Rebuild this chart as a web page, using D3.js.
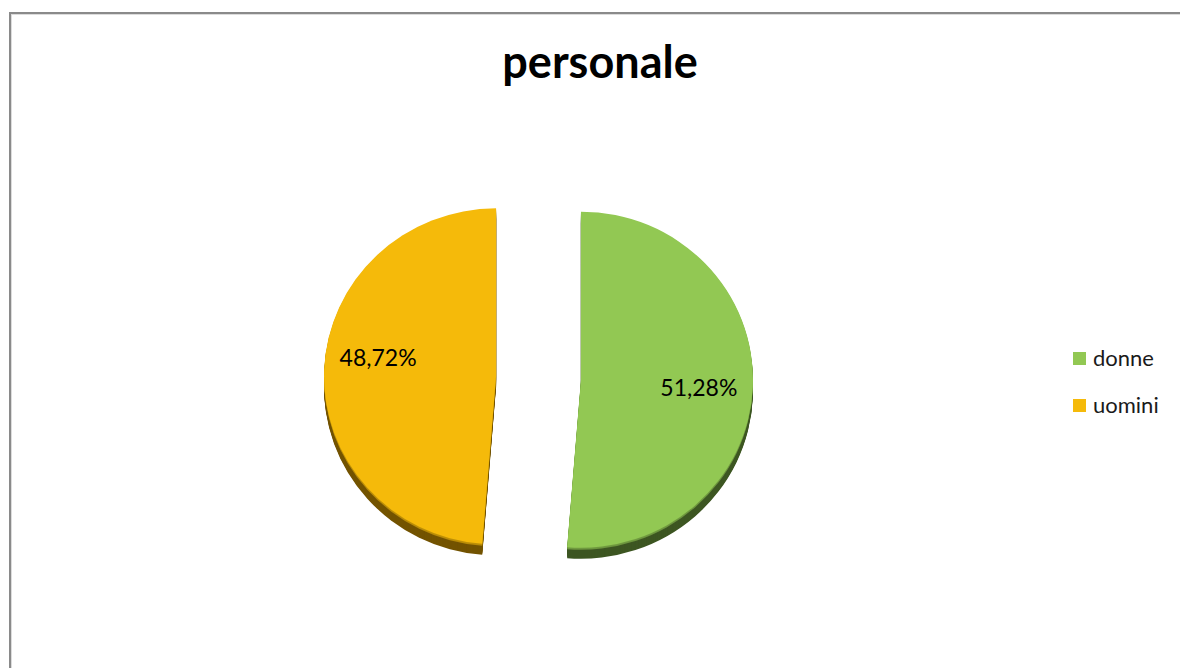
<!DOCTYPE html>
<html>
<head>
<meta charset="utf-8">
<script src="https://cdn.jsdelivr.net/npm/d3@7"></script>
<style>
  body { margin: 0; background: #fff; }
  svg { display: block; font-family: Lato, "Open Sans", sans-serif; }
</style>
</head>
<body>
<div id="chart"></div>
<script>
// Data
var categories = ["donne", "uomini"];
var values = [51.28, 48.72];
var labels = ["51,28%", "48,72%"];

var topColors = ["#92C853", "#F5BA0A"];
var sideColors = ["#3D5622", "#735300"];

var svgWidth = 1180;
var svgHeight = 668;

var svg = d3.select("#chart")
  .append("svg")
  .attr("width", svgWidth)
  .attr("height", svgHeight);

// chart area frame
svg.append("rect")
  .attr("x", 10).attr("y", 13)
  .attr("width", 1200).attr("height", 700)
  .attr("fill", "#fff")
  .attr("stroke", "#8a8a8a")
  .attr("stroke-width", 2);
svg.append("rect")
  .attr("x", 11.5).attr("y", 14.5)
  .attr("width", 1200).attr("height", 700)
  .attr("fill", "none")
  .attr("stroke", "#dcdcdc")
  .attr("stroke-width", 1);

// title
svg.append("text")
  .attr("x", 600)
  .attr("y", 78)
  .attr("text-anchor", "middle")
  .style("font-size", "45px")
  .style("font-weight", "bold")
  .text("personale");

// pie
var rx = 172, ry = 168;
var depth = 11;
var explode = 42.5;
var center = { x: 538.5, y: 378 };

var pie = d3.pie().sort(null).value(d => d);
var arcs = pie(values);

var arc = d3.arc().innerRadius(0).outerRadius(rx);
var labelArc = d3.arc().innerRadius(118).outerRadius(118);

var pieGroup = svg.append("g")
  .attr("transform", `translate(${center.x}, ${center.y}) scale(1, ${ry / rx})`);

var slices = pieGroup.selectAll("g.slice")
  .data(arcs)
  .enter()
  .append("g")
  .attr("class", "slice")
  .attr("transform", function (d) {
    var a = (d.startAngle + d.endAngle) / 2;
    return `translate(${Math.sin(a) * explode}, ${-Math.cos(a) * explode})`;
  });

// side walls: stacked copies shifted down
slices.each(function (d, i) {
  var g = d3.select(this);
  for (var k = depth; k >= 1; k--) {
    var c = d3.interpolateRgb(sideColors[i], d3.color(topColors[i]).darker(0.6))(1 - k / depth);
    g.append("path")
      .attr("d", arc(d))
      .attr("transform", `translate(0, ${k * rx / ry})`)
      .attr("fill", k > 2 ? sideColors[i] : c);
  }
  g.append("path")
    .attr("d", arc(d))
    .attr("fill", topColors[i]);
});

// data labels
svg.selectAll("text.label")
  .data(arcs)
  .enter()
  .append("text")
  .attr("class", "label")
  .attr("x", function (d) {
    var a = (d.startAngle + d.endAngle) / 2;
    return center.x + Math.sin(a) * explode + labelArc.centroid(d)[0];
  })
  .attr("y", function (d, i) {
    var a = (d.startAngle + d.endAngle) / 2;
    return center.y + (-Math.cos(a) * explode + labelArc.centroid(d)[1]) * ry / rx + (i === 1 ? -14 : 4);
  })
  .attr("dy", "0.35em")
  .attr("text-anchor", "middle")
  .style("font-size", "23px")
  .style("fill", "#000")
  .text((d, i) => labels[i]);

// legend
var legend = svg.selectAll("g.legend")
  .data(categories)
  .enter()
  .append("g")
  .attr("class", "legend")
  .attr("transform", (d, i) => `translate(1073, ${352 + i * 47})`);

legend.append("rect")
  .attr("width", 13)
  .attr("height", 13)
  .attr("fill", (d, i) => topColors[i]);

legend.append("text")
  .attr("x", 20)
  .attr("y", 14)
  .style("font-size", "22px")
  .style("fill", "#1a1a1a")
  .text(d => d);
</script>
</body>
</html>
